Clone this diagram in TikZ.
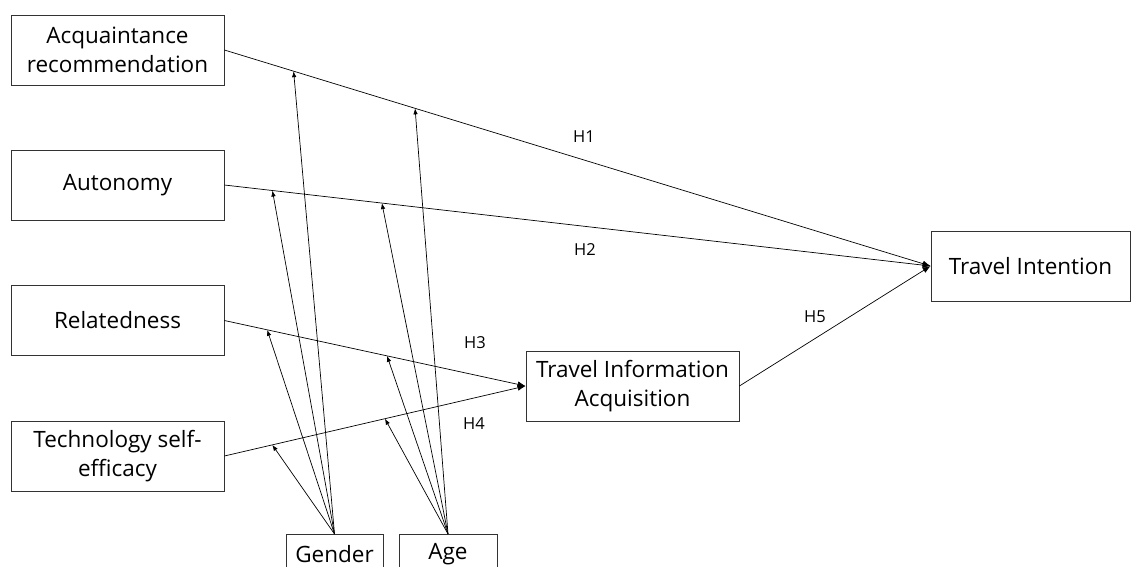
\documentclass[tikz,border=0pt]{standalone}
\usepackage{fontspec}
\setmainfont{Open Sans}
\usetikzlibrary{arrows.meta}
\tikzset{
  box/.style={draw=black!80, line width=0.8pt, fill=white, minimum width=213, minimum height=70, align=center, font=\fontsize{22.5}{29}\selectfont},
  path/.style={line width=0.7pt, -{Latex[length=8pt,width=6pt]}},
  mod/.style={line width=0.7pt, -{Latex[length=6pt,width=4.5pt]}},
  hyp/.style={font=\fontsize{16.5}{19}\selectfont}
}
\begin{document}
\begin{tikzpicture}[x=1pt,y=-1pt]
\useasboundingbox (0,0) rectangle (1136,566);
\node[box] (AR) at (117.5,50) {Acquaintance\\recommendation};
\node[box] (AU) at (117.5,185) {Autonomy};
\node[box] (RE) at (117.5,320.5) {Relatedness};
\node[box] (TS) at (117.5,456) {Technology self-\\efficacy};
\node[box] (TIA) at (632.5,386) {Travel Information\\Acquisition};
\node[box, minimum width=199] (TI) at (1030.5,266) {Travel Intention};
\node[box, anchor=north, minimum width=97, minimum height=40] (G) at (334.5,534) {Gender};
\node[box, anchor=north, minimum width=98, minimum height=40] (AG) at (448,534) {Age};

\draw[path] (AR.east) -- (TI.west) coordinate[pos=0.098] (ARg) coordinate[pos=0.27] (ARa);
\draw[path] (AU.east) -- (TI.west) coordinate[pos=0.068] (AUg) coordinate[pos=0.223] (AUa);
\draw[path] (RE.east) -- (TIA.west) coordinate[pos=0.142] (REg) coordinate[pos=0.54] (REa);
\draw[path] (TS.east) -- (TIA.west) coordinate[pos=0.159] (TSg) coordinate[pos=0.533] (TSa);
\draw[path] (TIA.east) -- (TI.west);

% moderators
\draw[mod] (G.north) -- (ARg);
\draw[mod] (G.north) -- (AUg);
\draw[mod] (G.north) -- (REg);
\draw[mod] (G.north) -- (TSg);
\draw[mod] (AG.north) -- (ARa);
\draw[mod] (AG.north) -- (AUa);
\draw[mod] (AG.north) -- (REa);
\draw[mod] (AG.north) -- (TSa);

\node[hyp] (H1) at (584,137) {H1};
\node[hyp] (H2) at (585,250) {H2};
\node[hyp] (H3) at (475,343) {H3};
\node[hyp] (H4) at (474,424) {H4};
\node[hyp] (H5) at (815,317) {H5};
\end{tikzpicture}
\end{document}
